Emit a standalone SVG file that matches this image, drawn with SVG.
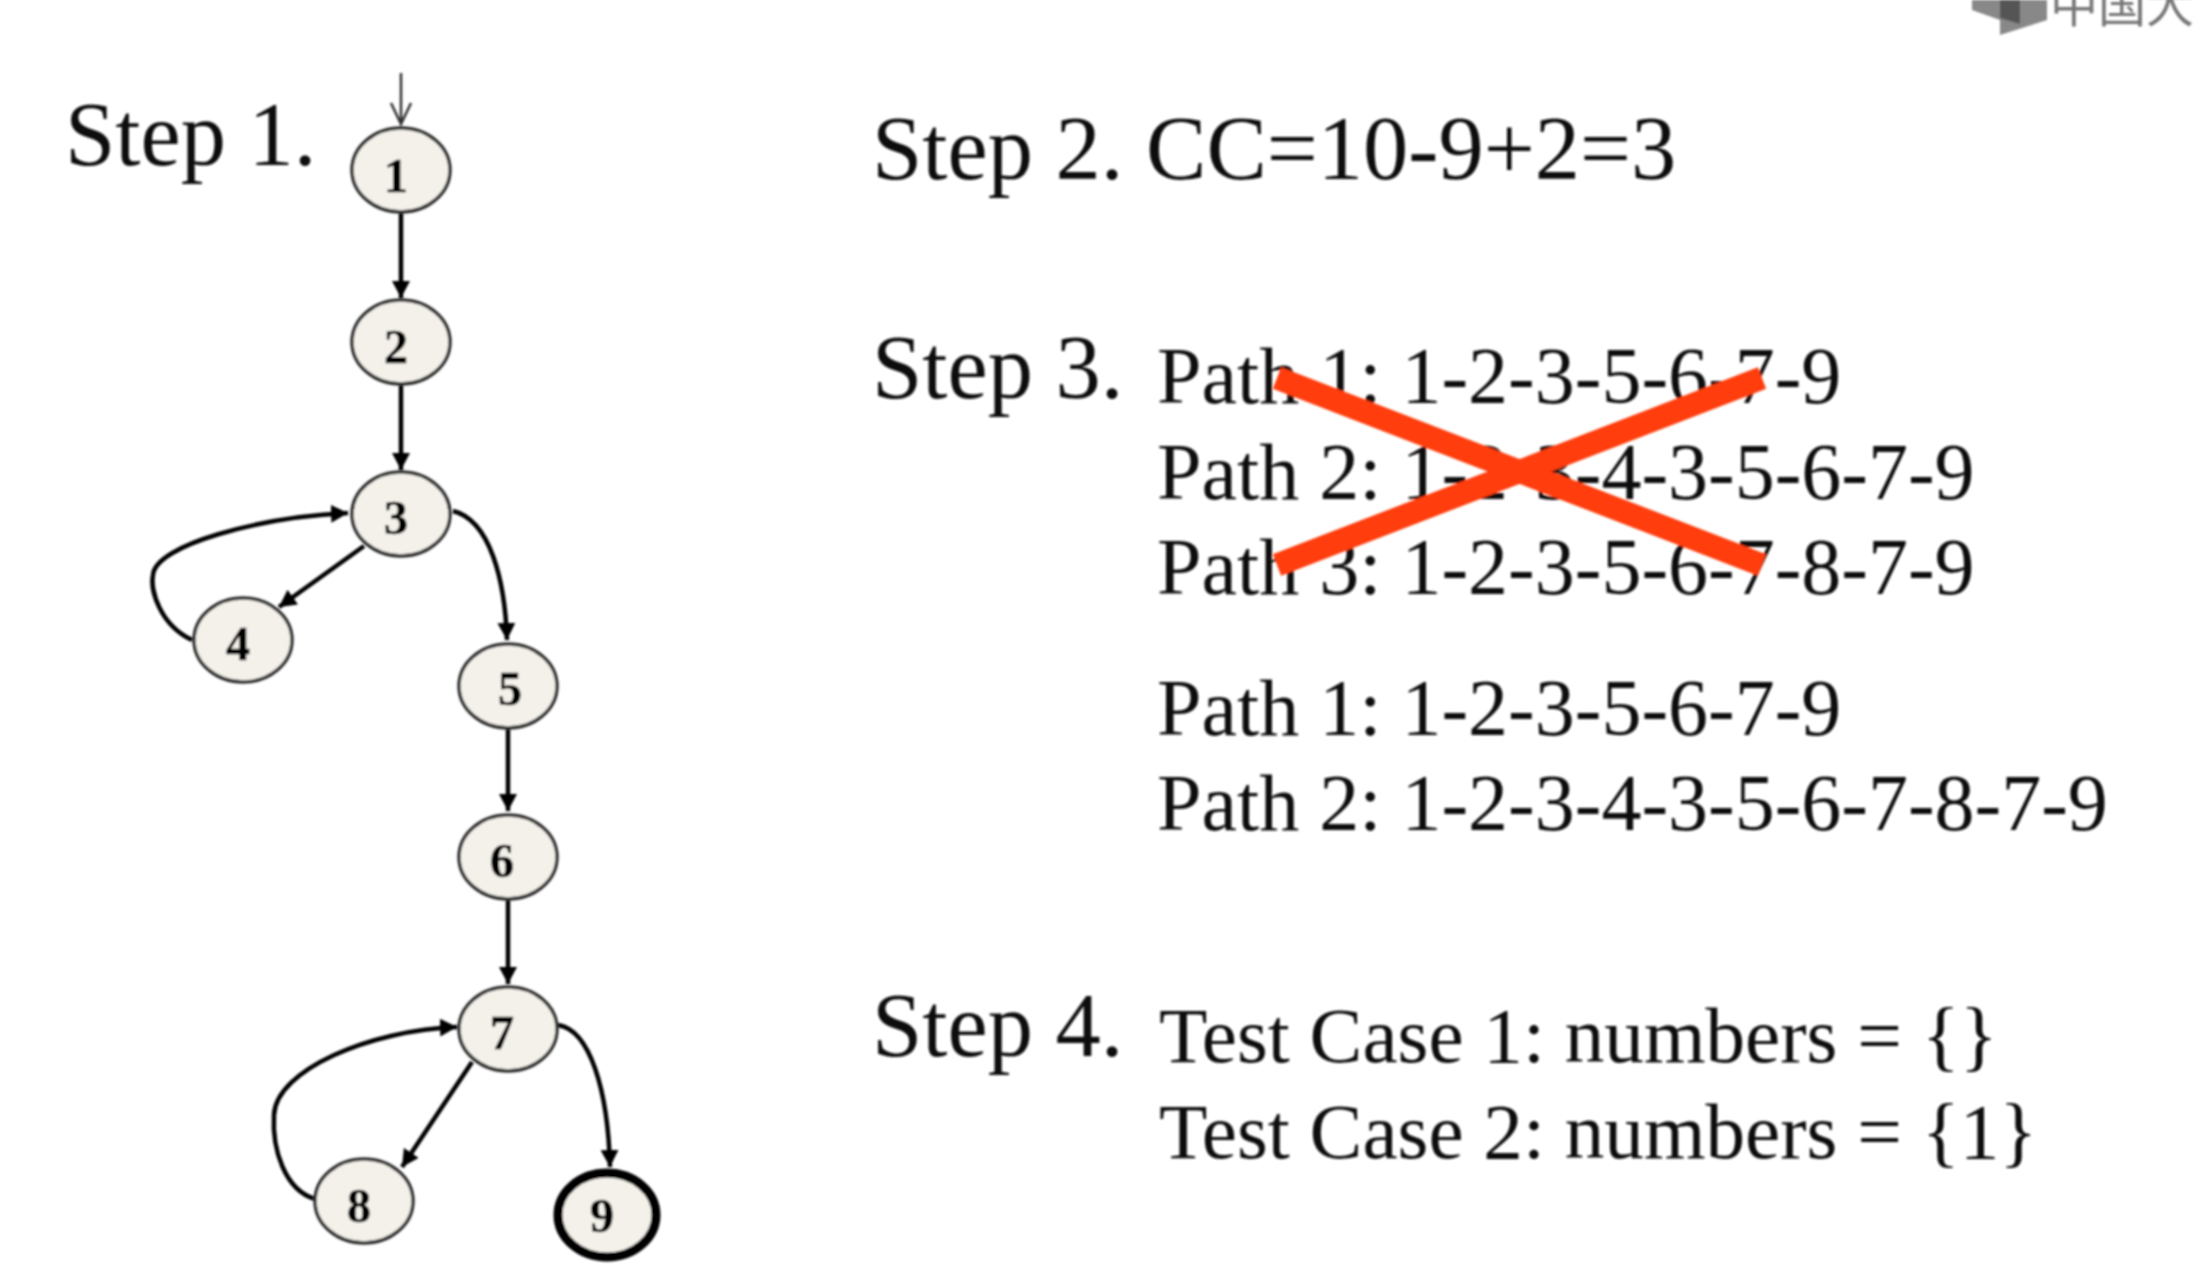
<svg xmlns="http://www.w3.org/2000/svg" width="2195" height="1276" viewBox="0 0 2195 1276">
<style>
.t{font-family:"Liberation Serif","Times New Roman",serif;fill:#111}
.s{font-size:90.5px}
.p{font-size:80px}
.c{font-size:79.2px}
.n ellipse{fill:#F4F1EA;stroke:#333;stroke-width:3.5}
.n text{font-family:"Liberation Serif",serif;font-weight:bold;font-size:48px;fill:#000;stroke:#000;stroke-width:.6}
.e{fill:none;stroke:#000;stroke-width:4.5}
.x{stroke:#FF3D0D;stroke-width:23;fill:none}
</style>
<defs>
<filter id="soft" x="-5%" y="-5%" width="110%" height="110%"><feGaussianBlur stdDeviation="0.9"/></filter>
<marker id="a" markerUnits="userSpaceOnUse" markerWidth="20" markerHeight="20" refX="17" refY="9" orient="auto"><path d="M0 0L17 9L0 18Z" fill="#000"/></marker>
</defs>
<rect width="2195" height="1276" fill="#fff"/>
<g filter="url(#soft)">
<g id="watermark">
<polygon points="1972,0 1972,10 2000,20 2000,35 2047,20 2047,0" fill="#888"/>
<polygon points="2000,0 2020,0 2020,24 2000,18" fill="#555"/>
<text x="2050" y="22" font-size="48" font-family="Noto Sans CJK SC,sans-serif" fill="#777">中国大学</text>
</g>
<g id="connectors">
<path d="M401 73V124M391 103L401 124L411 103" fill="none" stroke="#333" stroke-width="2.5"/>
<path class="e" marker-end="url(#a)" d="M401 213V298"/>
<path class="e" marker-end="url(#a)" d="M401 385V470"/>
<path class="e" marker-end="url(#a)" d="M364 546L279 607"/>
<path class="e" marker-end="url(#a)" d="M192 640C160 625 150 590 153 575C155 545 260 517 348 513"/>
<path class="e" marker-end="url(#a)" d="M453 511C490 520 505 580 507 640"/>
<path class="e" marker-end="url(#a)" d="M508 726V811"/>
<path class="e" marker-end="url(#a)" d="M508 899V984"/>
<path class="e" marker-end="url(#a)" d="M472 1062L402 1167"/>
<path class="e" marker-end="url(#a)" d="M315 1199C285 1190 272 1150 274 1115C276 1070 370 1030 457 1027"/>
<path class="e" marker-end="url(#a)" d="M558 1025C590 1030 608 1090 610 1167"/>
</g>
<g id="n1" class="n"><ellipse cx="401" cy="170" rx="49" ry="42"/><text x="396" y="192" text-anchor="middle">1</text></g>
<g id="n2" class="n"><ellipse cx="401" cy="342" rx="49" ry="42"/><text x="396" y="363" text-anchor="middle">2</text></g>
<g id="n3" class="n"><ellipse cx="401" cy="514" rx="49" ry="42"/><text x="396" y="534" text-anchor="middle">3</text></g>
<g id="n4" class="n"><ellipse cx="243" cy="640" rx="49" ry="42"/><text x="238" y="660" text-anchor="middle">4</text></g>
<g id="n5" class="n"><ellipse cx="508" cy="686" rx="49" ry="42"/><text x="510" y="705" text-anchor="middle">5</text></g>
<g id="n6" class="n"><ellipse cx="508" cy="857" rx="49" ry="42"/><text x="502" y="877" text-anchor="middle">6</text></g>
<g id="n7" class="n"><ellipse cx="508" cy="1029" rx="49" ry="42"/><text x="502" y="1049" text-anchor="middle">7</text></g>
<g id="n8" class="n"><ellipse cx="364" cy="1201" rx="49" ry="42"/><text x="359" y="1222" text-anchor="middle">8</text></g>
<g id="n9" class="n"><ellipse cx="607" cy="1215" rx="49" ry="42" style="stroke:#000;stroke-width:9"/><text x="602" y="1232" text-anchor="middle">9</text></g>
<g id="labels">
<text class="t s" x="65" y="165">Step 1.</text>
<text class="t s" x="872" y="179">Step 2. CC=10-9+2=3</text>
<text class="t s" x="872" y="398">Step 3.</text>
<text class="t s" x="872" y="1056">Step 4.</text>
<text class="t p" x="1157" y="403">Path 1: 1-2-3-5-6-7-9</text>
<text class="t p" x="1157" y="499">Path 2: 1-2-3-4-3-5-6-7-9</text>
<text class="t p" x="1157" y="594">Path 3: 1-2-3-5-6-7-8-7-9</text>
<text class="t p" x="1157" y="735">Path 1: 1-2-3-5-6-7-9</text>
<text class="t p" x="1157" y="830">Path 2: 1-2-3-4-3-5-6-7-8-7-9</text>
<text class="t c" x="1159" y="1062">Test Case 1: numbers = {}</text>
<text class="t c" x="1159" y="1158">Test Case 2: numbers = {1}</text>
</g>
<g id="cross">
<path class="x" d="M1277 378L1762 565"/>
<path class="x" d="M1277 565L1762 378"/>
</g>
</g>
</svg>
